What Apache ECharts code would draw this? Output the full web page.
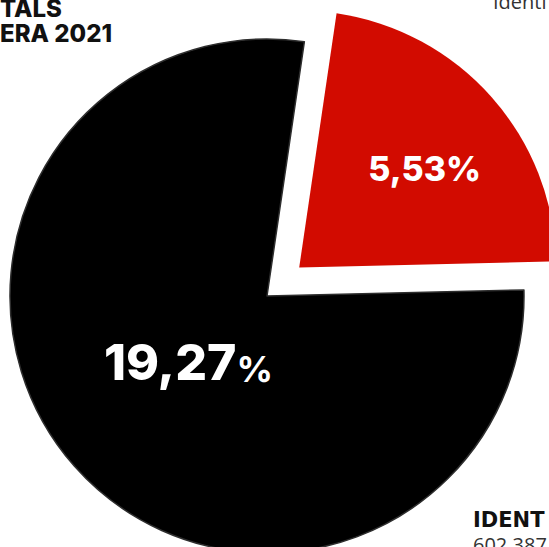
<!DOCTYPE html>
<html>
<head>
<meta charset="utf-8">
<script src="https://cdn.jsdelivr.net/npm/echarts@6/dist/echarts.min.js"></script>
<style>
html,body{margin:0;padding:0;background:#fff;}
#chart{width:549px;height:547px;}
</style>
</head>
<body>
<div id="chart"></div>
<script>
// Data
var categories = ['Vermell', 'Negre'];
var values = [5.53, 19.27];
var sliceColors = ['#d20b00', '#000000'];
var headerLines = ['TALS', 'ERA 2021'];
var topRightText = 'Identi';
var bottomRightTitle = 'IDENT';
var bottomRightValue = '602.387';

function fmt(v){ return v.toFixed(2).replace('.', ','); }

var total = values[0] + values[1];
var redSpan = values[0] / total * 360;
var redMid = 48.5; // compass degrees, clockwise from 12 o'clock
var startAngle = 90 - (redMid - redSpan / 2);

var FONT = 'Inter, "Noto Sans", sans-serif';

var chart = echarts.init(document.getElementById('chart'), null, {renderer: 'svg'});
chart.setOption({
  animation: false,
  backgroundColor: '#ffffff',
  series: [{
    type: 'pie',
    center: [267, 296],
    radius: [0, 257],
    startAngle: startAngle,
    clockwise: true,
    selectedMode: 'single',
    selectedOffset: 43,
    avoidLabelOverlap: false,
    emphasis: {disabled: true},
    labelLine: {show: false},
    data: [
      {
        name: categories[0], value: values[0], selected: true,
        itemStyle: {color: sliceColors[0], borderWidth: 0},
        label: {
          show: true, position: 'inside', padding: [0, 0, 0, 54],
          formatter: function(p){ return '{v|' + fmt(p.value) + '%}\n{s|}'; },
          rich: {
            v: {color: '#ffffff', fontFamily: FONT, fontWeight: 800, fontSize: 34, lineHeight: 40},
            s: {fontSize: 1, lineHeight: 24}
          }
        }
      },
      {
        name: categories[1], value: values[1],
        itemStyle: {color: sliceColors[1], borderColor: '#2e2e2e', borderWidth: 1.5},
        label: {
          show: true, position: 'inside', padding: [0, 0, 0, 40],
          formatter: function(p){ return '{a|' + fmt(p.value) + '}{b|%}\n{s|}'; },
          rich: {
            a: {color: '#ffffff', fontFamily: FONT, fontWeight: 800, fontSize: 50, lineHeight: 54, verticalAlign: 'bottom'},
            b: {color: '#ffffff', fontFamily: FONT, fontWeight: 700, fontSize: 36, lineHeight: 54, verticalAlign: 'bottom'},
            s: {fontSize: 1, lineHeight: 46}
          }
        }
      }
    ]
  }],
  graphic: [
    {type: 'text', left: 0, top: -4, style: {text: headerLines[0], font: '800 24px ' + FONT, fill: '#111111', lineHeight: 22}},
    {type: 'text', left: 0, top: 21, style: {text: headerLines[1], font: '800 24px ' + FONT, fill: '#111111'}},
    {type: 'text', x: 493, y: -9, style: {text: topRightText, font: '400 20px "Open Sans", sans-serif', fill: '#333333'}},
    {type: 'text', x: 473, y: 509, style: {text: bottomRightTitle, font: 'bold 21px "DejaVu Sans", sans-serif', fill: '#111111'}},
    {type: 'text', x: 473, y: 534, style: {text: bottomRightValue, font: '400 20px "Open Sans", sans-serif', fill: '#333333'}}
  ]
});
</script>
</body>
</html>
